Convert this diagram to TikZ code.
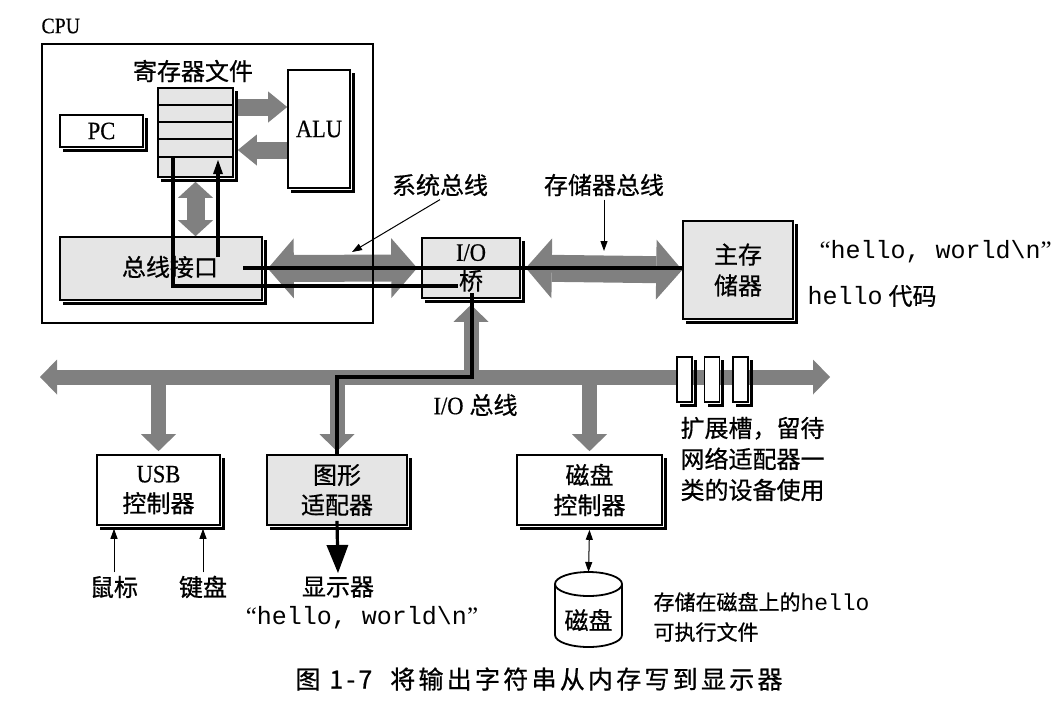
\documentclass[tikz,border=0pt]{standalone}
\usepackage{fontspec}
\setmainfont{Liberation Serif}
\setmonofont{Liberation Mono}
\newfontfamily\cjk[FakeBold=0.7]{Noto Sans CJK SC}
\newfontfamily\cjkcap[LetterSpace=13,FakeBold=0.7]{Noto Sans CJK SC}
\newfontfamily\lat[FakeStretch=0.9,FakeBold=0.5]{Liberation Serif}
\usetikzlibrary{arrows.meta,calc}
\definecolor{busgray}{gray}{0.5}
\definecolor{boxgray}{gray}{0.9}
\tikzset{
  BT/.tip={Triangle[width=60pt,length=26pt,line width=0pt]},
  MT/.tip={Triangle[width=35pt,length=17pt,line width=0pt]},
  VT/.tip={Triangle[width=35pt,length=16pt,line width=0pt]},
  RT/.tip={Triangle[width=31pt,length=19pt,line width=0pt]},
  ST/.tip={Triangle[width=7pt,length=10pt]},
  WT/.tip={Triangle[width=10pt,length=14pt,line width=0pt]},
  DT/.tip={Triangle[width=22pt,length=28pt,line width=0pt]},
  box/.style={draw=black, line width=1.6pt, fill=white, inner sep=0pt,
    append after command={\pgfextra{\draw[line width=3pt, black]
      ([shift={(2.2pt,-4pt)}]\tikzlastnode.north east) --
      ([shift={(2.2pt,-2.2pt)}]\tikzlastnode.south east) --
      ([shift={(4pt,-2.2pt)}]\tikzlastnode.south west);}}},
  gbox/.style={box, fill=boxgray},
  cjkA/.style={font=\cjk\fontsize{24}{30}\selectfont, align=center},
  latA/.style={font=\lat\fontsize{25}{30}\selectfont},
  mono/.style={font=\ttfamily\fontsize{25}{30}\selectfont},
  sysbus/.style={line width=27pt, draw=busgray, arrows={BT-BT}},
  iobus/.style={line width=15pt, draw=busgray},
  regarrow/.style={line width=17pt, draw=busgray, arrows={-RT}},
  dline/.style={line width=3.2pt, draw=black},
  thinarrow/.style={line width=1pt, draw=black, arrows={-ST}},
}
\begin{document}
\begin{tikzpicture}[x=1pt,y=-1pt]
\useasboundingbox[fill=white] (0,0) rectangle (1057,702);
% ---- labels in CPU
\node[font=\lat\fontsize{22}{26}\selectfont, anchor=west] (cpulbl) at (38,26) {CPU};
\node[cjkA] (rflbl) at (193,71) {寄存器文件};
% ---- boxes
\node[gbox, minimum width=75pt, minimum height=89pt] (regs) at (195.5,132.5) {};
\foreach \yy in {105,122,139,157} \draw[line width=1.6pt] (regs.west |- 0,\yy) -- (regs.east |- 0,\yy);
\node[box, minimum width=83pt, minimum height=32pt, latA] (pc) at (101.5,131) {PC};
\node[box, minimum width=62pt, minimum height=118pt, latA] (alu) at (319,129) {ALU};
\node[gbox, minimum width=202pt, minimum height=63pt] (busif) at (161,268.5) {};
\node[cjkA] (busiftxt) at (170,267) {总线接口};
\node[gbox, minimum width=98pt, minimum height=60pt, cjkA, font=\cjk\fontsize{24}{29}\selectfont] (bridge) at (471,268) {{\lat\fontsize{25}{29}\selectfont I/O}\\桥};
\node[gbox, minimum width=110pt, minimum height=98pt, cjkA, font=\cjk\fontsize{24}{31}\selectfont] (mem) at (738,270) {主存\\储器};
\node[box, minimum width=123pt, minimum height=70pt, cjkA] (usb) at (158.5,490) {{\lat\fontsize{25}{30}\selectfont USB}\\控制器};
\node[gbox, minimum width=140pt, minimum height=70pt, cjkA] (gfx) at (337,490) {图形\\适配器};
\node[box, minimum width=145pt, minimum height=70pt, cjkA] (diskctl) at (589.5,490) {磁盘\\控制器};
% ---- buses
\draw[line width=18pt, draw=busgray, arrows={VT-VT}] ([yshift=-4pt]regs.south) -- (regs.south |- busif.north);
\draw[regarrow] ($(regs.east |- 0,107)+(4,0)$) -- (alu.west |- 0,107);
\draw[regarrow] (alu.west |- 0,150) -- ($(regs.east |- 0,150)+(4,0)$);
\draw[sysbus] ([xshift=5pt]busif.east) -- ([xshift=-4pt]bridge.west);
\draw[sysbus] ([xshift=5pt]bridge.east) -- (mem.west);
\coordinate (iobL) at (40,377);
\coordinate (iobR) at (830,377);
\draw[iobus, arrows={MT-MT}] (iobL) -- (iobR);
\draw[iobus, arrows={-MT}] (usb.north |- iobL) -- ([yshift=3pt]usb.north);
\draw[iobus, arrows={-MT}] (gfx.north |- iobL) -- ([yshift=3pt]gfx.north);
\draw[iobus, arrows={-MT}] (diskctl.north |- iobL) -- ([yshift=3pt]diskctl.north);
\draw[iobus, arrows={-MT}] (bridge.south |- iobL) -- ([yshift=-6pt]bridge.south);
% ---- expansion slots
\foreach \sx/\nm in {684.5/slotA, 712/slotB, 740.5/slotC}
  \node[box, minimum width=15pt, minimum height=45pt] (\nm) at (\sx,379.5) {};
% ---- black data path lines
\coordinate (rl) at (173,158);
\coordinate (bl) at (458,286);
\draw[dline] (rl) |- (bl);
\coordinate (rr) at (218,257);
\coordinate (rrt) at (218,160);
\draw[dline, arrows={-WT}] (rr) -- (rrt);
\coordinate (tl) at (243,268);
\draw[dline] (tl) -- (tl -| mem.west);
\coordinate (bd) at (472,293);
\node[cjkA] (display) at (338,587) {显示器};
\draw[dline] (bd) |- (gfx.north |- iobL) -- (gfx.north);
\draw[dline, arrows={-DT}] ([yshift=5pt]gfx.south) -- (display.north);
% ---- bus labels
\node[cjkA] (sysbuslbl) at (440,185) {系统总线};
\coordinate (sbt) at (352,252);
\draw[thinarrow] (sysbuslbl.south) -- (sbt);
\node[cjkA] (membuslbl) at (604,185) {存储器总线};
\coordinate (mbt) at (604,251);
\draw[thinarrow] (membuslbl.south) -- (mbt);
\node[anchor=west, font=\fontsize{24}{30}\selectfont] (ioblbl) at (430,405) {{\lat\fontsize{25}{30}\selectfont I/O} {\cjk 总线}};
% ---- right side texts
\node[mono, anchor=west] (hw1) at (816,252) {{\rmfamily “}hello, world\textbackslash n{\rmfamily ”}};
\node[anchor=west, font=\fontsize{24}{30}\selectfont] (hcode) at (804,296) {{\ttfamily\fontsize{25}{30}\selectfont hello} {\cjk 代码}};
\node[cjkA, anchor=west, align=left, font=\cjk\fontsize{24}{31}\selectfont] (exptxt) at (677,459) {扩展槽，留待\\网络适配器一\\类的设备使用};
% ---- USB inputs
\node[cjkA] (mouse) at (114,587) {鼠标};
\node[cjkA] (kbd) at (203,587) {键盘};
\draw[thinarrow] (mouse.north) -- ([yshift=-3pt]mouse.north |- usb.south);
\draw[thinarrow] (kbd.north) -- ([yshift=-3pt]kbd.north |- usb.south);
% ---- display text
\node[mono] (hw2) at (362,618) {{\rmfamily “}hello, world\textbackslash n{\rmfamily ”}};
% ---- disk
\draw[line width=1.8pt, fill=white] (555,584) -- (555,635) arc[start angle=180, end angle=0, x radius=33.5, y radius=12] -- (622,584) arc[start angle=0, end angle=-180, x radius=33.5, y radius=12] -- cycle;
\draw[line width=1.8pt] (555,584) arc[start angle=180, end angle=0, x radius=33.5, y radius=12];
\coordinate (disktop) at (588.5,572);
\node[cjkA] (disk) at (588.5,620) {磁盘};
\draw[line width=1pt, arrows={ST-ST}] ([yshift=-4pt]diskctl.south) -- (disktop);
\node[anchor=west, align=left, font=\cjk\fontsize{21}{30}\selectfont] (disklbl) at (650,617) {存储在磁盘上的{\ttfamily\fontsize{23}{30}\selectfont hello}\\可执行文件};
% ---- CPU box (on top of bus)
\node[draw, line width=2.4pt, inner sep=0pt, minimum width=331pt, minimum height=279pt] (cpu) at (207.5,183.5) {};
% ---- caption
\node[font=\cjkcap\fontsize{25}{30}\selectfont] (caption) at (539,679) {图 1-7\hspace{18pt}将输出字符串从内存写到显示器};
\end{tikzpicture}
\end{document}
